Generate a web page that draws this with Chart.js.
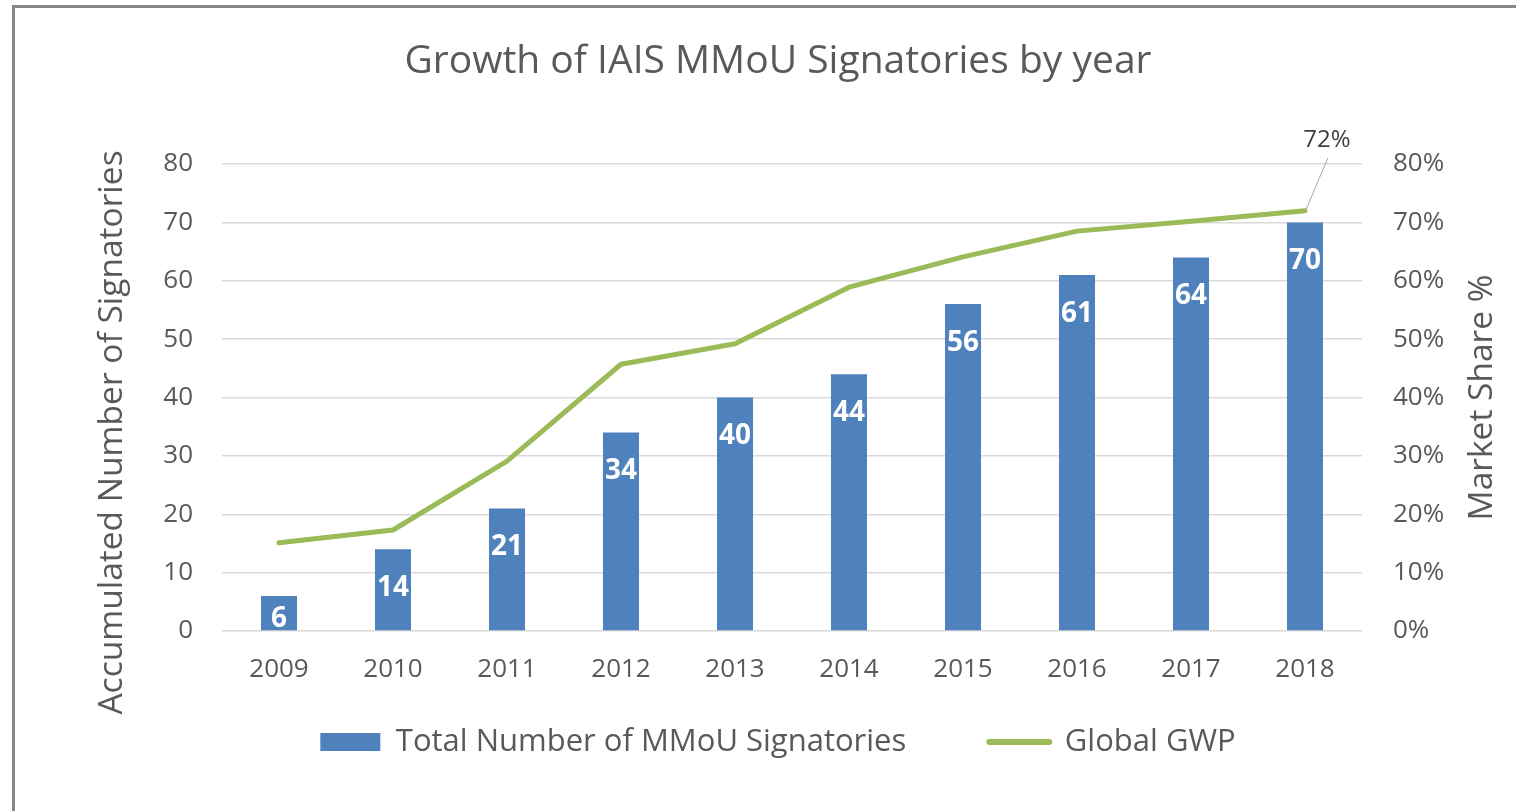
<!DOCTYPE html>
<html><head><meta charset="utf-8">
<script src="https://cdn.jsdelivr.net/npm/chart.js@4.4.1/dist/chart.umd.min.js"></script>
<style>
html,body{margin:0;padding:0;background:#fff;width:1516px;height:811px;overflow:hidden}
#wrap{position:absolute;left:0;top:0;width:1516px;height:811px}
#frame{position:absolute;left:12px;top:5px;width:1600px;height:900px;border:3px solid #878787;box-sizing:border-box;pointer-events:none}
</style></head><body>
<div id="wrap"><canvas id="c" width="1516" height="811"></canvas></div>
<div id="frame"></div>
<script>
const chartTitle = 'Growth of IAIS MMoU Signatories by year';
const years = ['2009','2010','2011','2012','2013','2014','2015','2016','2017','2018'];
const signatories = [6, 14, 21, 34, 40, 44, 56, 61, 64, 70];
const marketShare = [15.1, 17.3, 29.1, 45.7, 49.2, 58.9, 64.1, 68.5, 70.2, 72];
const barLabel = 'Total Number of MMoU Signatories';
const lineLabel = 'Global GWP';
const leftAxisTitle = 'Accumulated Number of Signatories';
const rightAxisTitle = 'Market Share %';
const calloutIndex = 9;

const FONT = '"Open Sans"';
const TEXT = '#595959';
const BLUE = '#4F81BD';
const GREEN = '#9BBB59';

const overlay = {
  id: 'overlay',
  afterDatasetsDraw(chart) {
    const ctx = chart.ctx;
    const area = chart.chartArea;
    ctx.save();
    // bar value labels
    const bm = chart.getDatasetMeta(1);
    ctx.fillStyle = '#ffffff';
    ctx.font = 'bold 28px ' + FONT;
    ctx.textAlign = 'center';
    ctx.textBaseline = 'middle';
    bm.data.forEach((el, i) => {
      const cy = Math.min(el.y + 39, el.base - 11);
      ctx.fillText(String(signatories[i]), el.x, cy);
    });
    // callout on line
    const lm = chart.getDatasetMeta(0);
    const p = lm.data[calloutIndex];
    ctx.strokeStyle = '#a6a6a6';
    ctx.lineWidth = 1;
    ctx.beginPath();
    ctx.moveTo(p.x + 1, p.y - 1);
    ctx.lineTo(p.x + 23, p.y - 53);
    ctx.stroke();
    ctx.fillStyle = '#404040';
    ctx.font = '24px ' + FONT;
    ctx.fillText(marketShare[calloutIndex] + '%', p.x + 22, p.y - 71);
    // axis titles
    ctx.fillStyle = TEXT;
    ctx.font = '33.5px ' + FONT;
    const midY = (area.top + area.bottom) / 2;
    ctx.save();
    ctx.translate(area.left - 110, midY + 35);
    ctx.rotate(-Math.PI / 2);
    ctx.fillText(leftAxisTitle, 0, 0);
    ctx.restore();
    ctx.save();
    ctx.translate(area.right + 120, midY);
    ctx.rotate(-Math.PI / 2);
    ctx.fillText(rightAxisTitle, 0, 0);
    ctx.restore();
    ctx.restore();
  }
};

new Chart(document.getElementById('c'), {
  data: {
    labels: years,
    datasets: [
      {
        type: 'line', label: lineLabel, data: marketShare, yAxisID: 'y1',
        borderColor: GREEN, backgroundColor: GREEN, borderWidth: 5,
        pointRadius: 0, pointHoverRadius: 0, tension: 0,
        borderJoinStyle: 'round', borderCapStyle: 'round', order: 0
      },
      {
        type: 'bar', label: barLabel, data: signatories, yAxisID: 'y',
        backgroundColor: BLUE, borderWidth: 0,
        categoryPercentage: 1, barPercentage: 0.316, order: 1
      }
    ]
  },
  options: {
    responsive: false,
    animation: false,
    devicePixelRatio: 1,
    layout: { padding: { left: 40, right: 0, top: 0, bottom: 43.5 } },
    plugins: {
      tooltip: { enabled: false },
      title: {
        display: true, text: chartTitle, color: TEXT,
        font: { family: FONT, size: 39, weight: 'normal' },
        padding: { top: 38.6, bottom: 78.6 }
      },
      legend: {
        display: true, position: 'bottom',
        labels: {
          color: TEXT, font: { family: FONT, size: 31 },
          usePointStyle: true, pointStyleWidth: 60, boxHeight: 18, padding: 83,
          generateLabels() {
            return [
              { text: barLabel, fillStyle: BLUE, strokeStyle: BLUE, lineWidth: 0, pointStyle: 'rect', datasetIndex: 1, hidden: false, fontColor: TEXT },
              { text: lineLabel, fillStyle: GREEN, strokeStyle: GREEN, lineWidth: 6, lineCap: 'round', pointStyle: 'line', datasetIndex: 0, hidden: false, fontColor: TEXT }
            ];
          }
        }
      }
    },
    scales: {
      x: {
        grid: { display: false }, border: { display: false },
        ticks: { color: TEXT, font: { family: FONT, size: 26 }, mirror: true, padding: -54.6 },
        afterFit(s) { s.height = 12.5; }
      },
      y: {
        position: 'left', min: 0, max: 80,
        ticks: { stepSize: 10, color: TEXT, font: { family: FONT, size: 26 }, padding: 29 },
        grid: { color: '#d9d9d9', lineWidth: 1.5, drawTicks: false },
        border: { display: false },
        afterFit(s) { s.width = 182; }
      },
      y1: {
        position: 'right', min: 0, max: 80,
        ticks: { stepSize: 10, color: TEXT, font: { family: FONT, size: 26 }, padding: 31, callback: v => v + '%' },
        grid: { display: false, drawTicks: false }, border: { display: false },
        afterFit(s) { s.width = 154; }
      }
    }
  },
  plugins: [overlay]
});
</script>
</body></html>
